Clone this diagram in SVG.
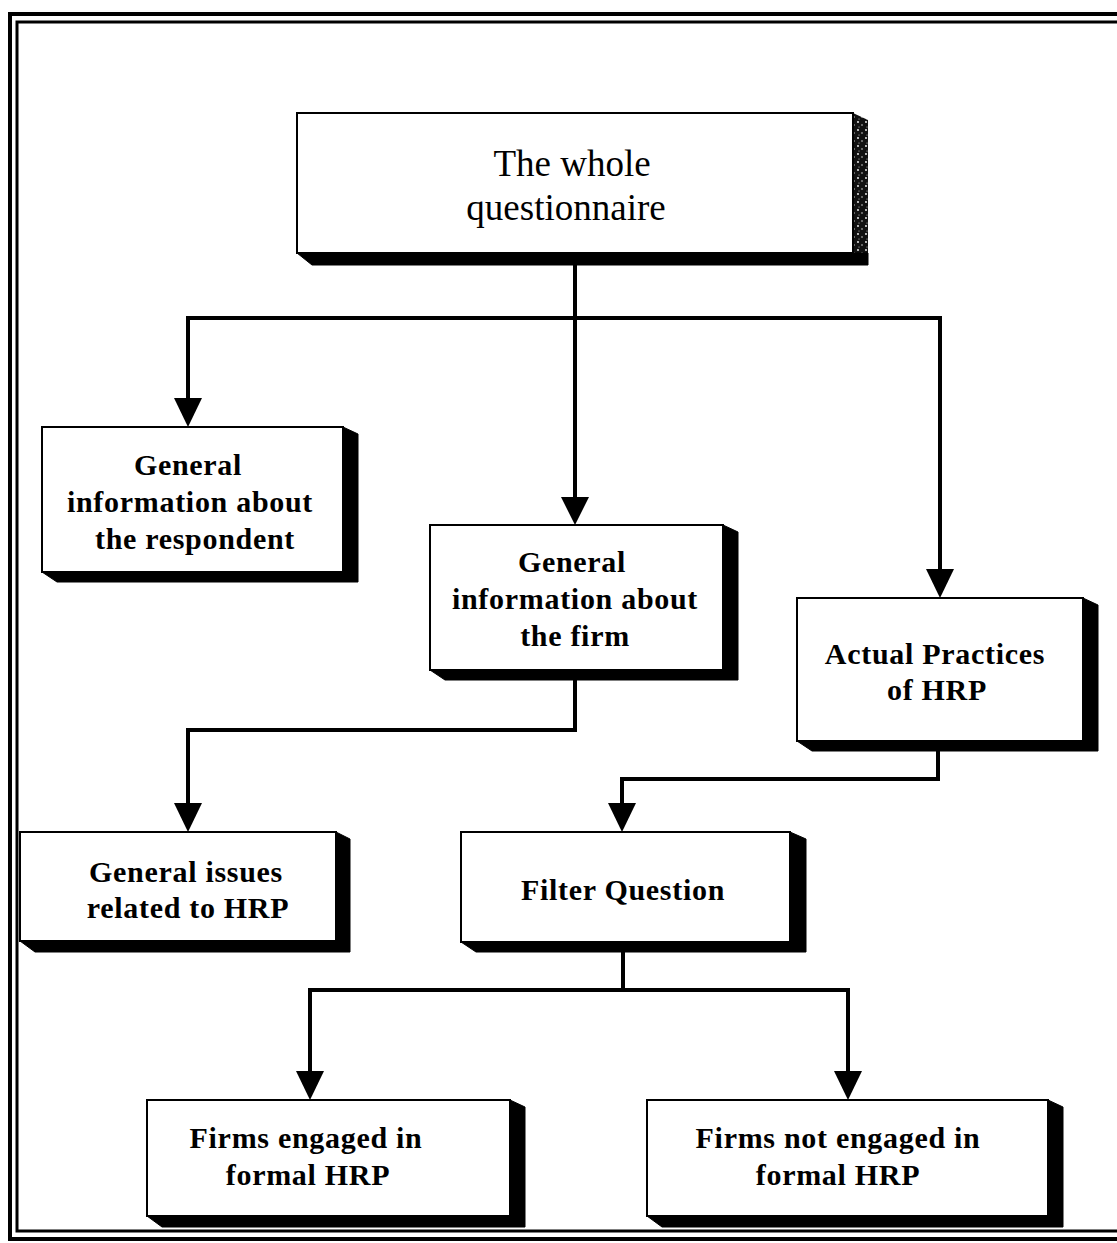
<svg xmlns="http://www.w3.org/2000/svg" width="1117" height="1243" viewBox="0 0 1117 1243">
  <style>
    .face { fill: #ffffff; stroke: #000000; stroke-width: 2; }
    .depth { fill: #000000; stroke: #000000; stroke-width: 1; }
    .lbl { font-family: "Liberation Serif", "Times New Roman", serif; font-weight: bold; font-size: 30px; letter-spacing: 0.7px; text-anchor: middle; fill: #000; }
    .title { font-family: "Liberation Serif", "Times New Roman", serif; font-size: 37px; text-anchor: middle; fill: #000; }
    .wire { fill: none; stroke: #000000; stroke-width: 4; stroke-linejoin: miter; }
    .frame { fill: none; stroke: #000000; }
  </style>
  <defs>
    <pattern id="speckle" width="8" height="8" patternUnits="userSpaceOnUse">
      <rect width="8" height="8" fill="#111"/>
      <circle cx="2" cy="2" r="0.9" fill="#fff"/>
      <circle cx="6" cy="5" r="0.7" fill="#fff"/>
      <circle cx="3" cy="7" r="0.5" fill="#ddd"/>
    </pattern>
  </defs>

  <rect width="1117" height="1243" fill="#ffffff"/>

  <!-- double page frame -->
  <g id="frame">
    <path class="frame" stroke-width="4" d="M1120,14 L10,14 L10,1239 L1120,1239"/>
    <path class="frame" stroke-width="3" d="M1120,22 L17,22 L17,1231 L1120,1231"/>
  </g>

  <!-- connectors: orthogonal wires with filled arrowheads -->
  <g id="connectors">
    <path class="wire" d="M575,265 L575,500"/>
    <path d="M561,497 L589,497 L575,525 Z" fill="#000"/>
    <path class="wire" d="M188,400 L188,318 L940,318 L940,572"/>
    <path d="M174,398 L202,398 L188,427 Z" fill="#000"/>
    <path d="M926,569 L954,569 L940,598 Z" fill="#000"/>

    <path class="wire" d="M575,680 L575,730 L188,730 L188,806"/>
    <path d="M174,803 L202,803 L188,832 Z" fill="#000"/>

    <path class="wire" d="M938,751 L938,779 L622,779 L622,806"/>
    <path d="M608,803 L636,803 L622,832 Z" fill="#000"/>

    <path class="wire" d="M623,952 L623,990"/>
    <path class="wire" d="M310,1074 L310,990 L848,990 L848,1074"/>
    <path d="M296,1071 L324,1071 L310,1100 Z" fill="#000"/>
    <path d="M834,1071 L862,1071 L848,1100 Z" fill="#000"/>
  </g>

  <!-- top node -->
  <g id="node-whole">
    <path d="M853,113 L868,120 L868,265 L853,265 Z" fill="url(#speckle)"/>
    <path class="depth" d="M297,253 L853,253 L868,253 L868,265 L312,265 Z"/>
    <rect class="face" x="297" y="113" width="556" height="140"/>
    <text class="title" x="572" y="176">The whole</text>
    <text class="title" x="566" y="220">questionnaire</text>
  </g>

  <g id="node-respondent">
    <path class="depth" d="M343,427 L358,434 L358,582 L57,582 L42,572 L343,572 Z"/>
    <rect class="face" x="42" y="427" width="301" height="145"/>
    <text class="lbl" x="188" y="475">General</text>
    <text class="lbl" x="190" y="512">information about</text>
    <text class="lbl" x="195" y="549">the respondent</text>
  </g>

  <g id="node-firm">
    <path class="depth" d="M723,525 L738,532 L738,680 L445,680 L430,670 L723,670 Z"/>
    <rect class="face" x="430" y="525" width="293" height="145"/>
    <text class="lbl" x="572" y="572">General</text>
    <text class="lbl" x="575" y="609">information about</text>
    <text class="lbl" x="575" y="646">the firm</text>
  </g>

  <g id="node-practices">
    <path class="depth" d="M1083,598 L1098,605 L1098,751 L812,751 L797,741 L1083,741 Z"/>
    <rect class="face" x="797" y="598" width="286" height="143"/>
    <text class="lbl" x="935" y="664">Actual Practices</text>
    <text class="lbl" x="937" y="700">of HRP</text>
  </g>

  <g id="node-issues">
    <path class="depth" d="M336,832 L350,839 L350,952 L35,952 L20,941 L336,941 Z"/>
    <rect class="face" x="20" y="832" width="316" height="109"/>
    <text class="lbl" x="186" y="882">General issues</text>
    <text class="lbl" x="188" y="918">related to HRP</text>
  </g>

  <g id="node-filter">
    <path class="depth" d="M790,832 L806,839 L806,952 L476,952 L461,942 L790,942 Z"/>
    <rect class="face" x="461" y="832" width="329" height="110"/>
    <text class="lbl" x="623" y="900">Filter Question</text>
  </g>

  <g id="node-engaged">
    <path class="depth" d="M510,1100 L525,1107 L525,1227 L162,1227 L147,1216 L510,1216 Z"/>
    <rect class="face" x="147" y="1100" width="363" height="116"/>
    <text class="lbl" x="306" y="1148">Firms engaged in</text>
    <text class="lbl" x="308" y="1185">formal HRP</text>
  </g>

  <g id="node-not-engaged">
    <path class="depth" d="M1048,1100 L1063,1107 L1063,1227 L662,1227 L647,1216 L1048,1216 Z"/>
    <rect class="face" x="647" y="1100" width="401" height="116"/>
    <text class="lbl" x="838" y="1148">Firms not engaged in</text>
    <text class="lbl" x="838" y="1185">formal HRP</text>
  </g>
</svg>
